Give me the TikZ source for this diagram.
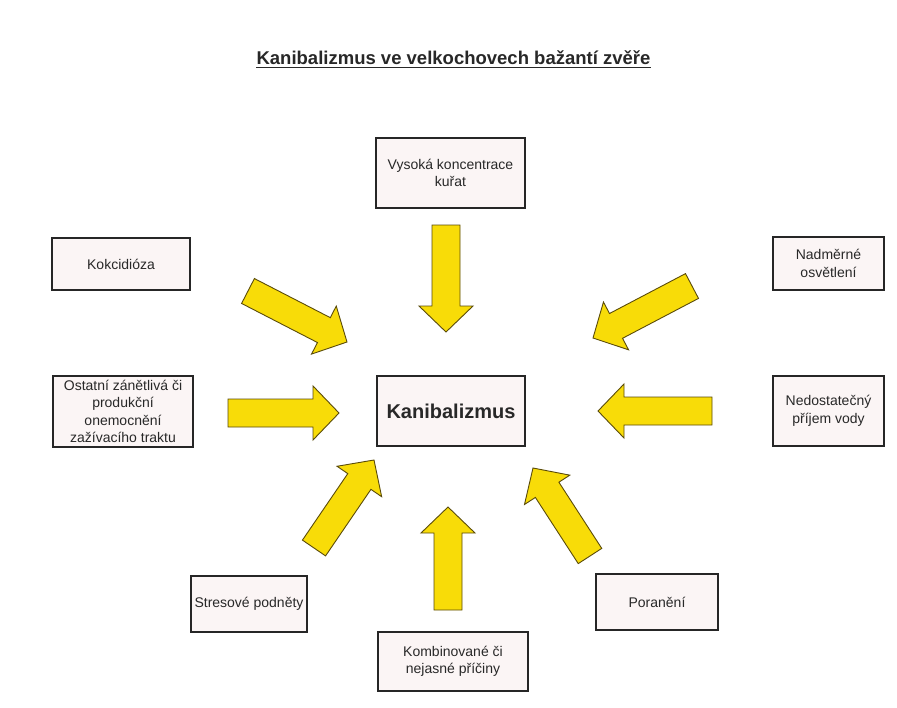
\documentclass[tikz,border=0pt]{standalone}
\usepackage{fontspec}
\setmainfont{Liberation Sans}
\usetikzlibrary{calc}
\definecolor{arrowyellow}{RGB}{248,220,8}
\definecolor{arrowline}{RGB}{90,75,10}
\definecolor{boxfill}{RGB}{251,245,245}
\definecolor{txt}{RGB}{40,40,40}
\tikzset{
  cause/.style={draw=black!85, line width=2.5pt, fill=boxfill, inner sep=0pt, align=center,
    text=txt, font=\fontsize{14}{17.5}\selectfont},
  barrow/.style={draw=arrowline, fill=arrowyellow, line width=0.9pt, line join=miter},
}
\newcommand\blockarrow[3]{%
  \coordinate (#1h) at ($(#3)!26pt!(#2)$);
  \draw[barrow] ($(#2)!14pt!90:(#3)$) -- ($(#1h)!14pt!90:(#3)$) -- ($(#1h)!27pt!90:(#3)$)
    -- (#3) -- ($(#1h)!27pt!-90:(#3)$) -- ($(#1h)!14pt!-90:(#3)$) -- ($(#2)!14pt!-90:(#3)$) -- cycle;
}
\begin{document}
\begin{tikzpicture}[x=1pt,y=-1pt]
\useasboundingbox[fill=white] (0,0) rectangle (897,707);

% title
\node[anchor=base, inner sep=0pt, font=\fontsize{18.5}{22}\selectfont\bfseries, text=txt] (title) at (453.5,64)
  {Kanibalizmus ve velkochovech bažantí zvěře};
\draw[line width=1.3pt, txt] ([yshift=-3.5pt]title.base west) -- ([yshift=-3.5pt]title.base east);

% boxes
\node[cause, minimum width=149pt, minimum height=70pt] (vys) at (450.5,173) {Vysoká koncentrace\\kuřat};
\node[cause, minimum width=138pt, minimum height=52pt] (kok) at (121,264) {Kokcidióza};
\node[cause, minimum width=111pt, minimum height=53pt] (nad) at (828.5,263.5) {Nadměrné\\osvětlení};
\node[cause, minimum width=140pt, minimum height=71pt] (ost) at (123,411.5) {Ostatní zánětlivá či\\produkční\\onemocnění\\zažívacího traktu};
\node[cause, minimum width=148pt, minimum height=70pt, font=\fontsize{20}{24}\selectfont\bfseries] (kan) at (451,411) {Kanibalizmus};
\node[cause, minimum width=111pt, minimum height=70pt] (ned) at (828.5,411) {Nedostatečný\\příjem vody};
\node[cause, minimum width=116pt, minimum height=56pt] (str) at (249,604) {Stresové podněty};
\node[cause, minimum width=122pt, minimum height=56pt] (por) at (657,602) {Poranění};
\node[cause, minimum width=150pt, minimum height=59pt] (kom) at (453,661.5) {Kombinované či\\nejasné příčiny};

% arrow end points
\coordinate (t1) at (446,225);   \coordinate (p1) at (446,332);
\coordinate (t2) at (448,610);   \coordinate (p2) at (448,507);
\coordinate (t3) at (228,413);   \coordinate (p3) at (339,413);
\coordinate (t4) at (712,411);   \coordinate (p4) at (598,411);
\coordinate (t5) at (248,291);   \coordinate (p5) at (347,342);
\coordinate (t6) at (692,286);   \coordinate (p6) at (593,338);
\coordinate (t7) at (314,548);   \coordinate (p7) at (374,460);
\coordinate (t8) at (590,556);   \coordinate (p8) at (533,468);

\blockarrow{a1}{t1}{p1}
\blockarrow{a2}{t2}{p2}
\blockarrow{a3}{t3}{p3}
\blockarrow{a4}{t4}{p4}
\blockarrow{a5}{t5}{p5}
\blockarrow{a6}{t6}{p6}
\blockarrow{a7}{t7}{p7}
\blockarrow{a8}{t8}{p8}
\end{tikzpicture}
\end{document}
